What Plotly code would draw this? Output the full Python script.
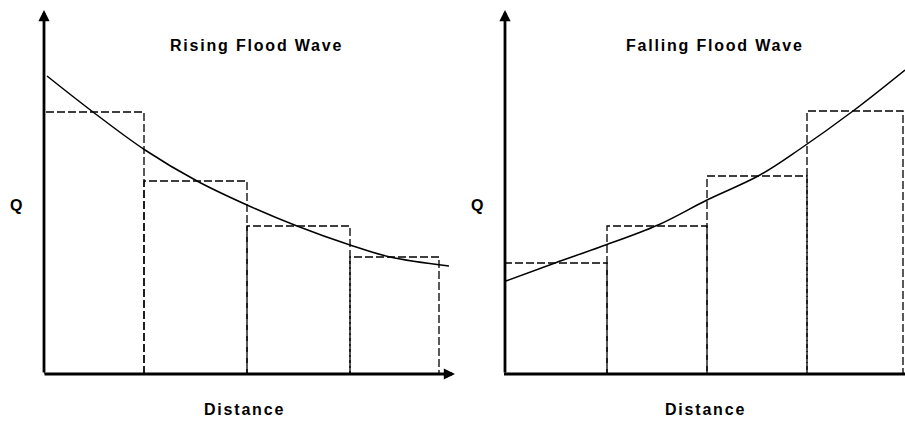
import plotly.graph_objects as go

# the page's body margin is removed in post_script so the figure fills the window
OFF = 0
W, H = 905, 421

# ---- data (x = distance units, y = Q units) ----
rise_edges = [0.0, 1.0, 2.03, 3.06, 3.95]
rise_heights = [2.62, 1.93, 1.48, 1.17]
rise_curve_x = [0.03, 0.49, 1.01, 1.53, 2.03, 2.53, 3.06, 3.46, 4.05]
rise_curve_y = [2.98, 2.62, 2.24, 1.93, 1.69, 1.48, 1.29, 1.17, 1.08]

fall_edges = [0.0, 1.02, 2.02, 3.02, 3.98]
fall_heights = [1.11, 1.48, 1.98, 2.63]
fall_curve_x = [0.01, 0.5, 0.95, 1.53, 2.02, 2.55, 2.95, 3.48, 4.0]
fall_curve_y = [0.93, 1.11, 1.27, 1.49, 1.74, 1.99, 2.25, 2.63, 3.04]

titles = ["Rising Flood Wave", "Falling Flood Wave"]
ylab = "Q"
xlab = "Distance"

X_MAX_L, X_MAX_R, Y_MAX = 4.11, 4.0, 3.64


def px(p):
    return (p - OFF) / W


def py(p):
    return 1 - (p - OFF) / H


def steps(edges, heights):
    xs, ys = [], []
    for i, h in enumerate(heights):
        xs += [edges[i], edges[i], edges[i + 1], edges[i + 1], None]
        ys += [0, h, h, 0, None]
    return xs, ys


fig = go.Figure()
dash_style = dict(color="black", width=1.3, dash="8px,3px")
for (edges, heights, cx, cy, xa, ya) in [
    (rise_edges, rise_heights, rise_curve_x, rise_curve_y, "x", "y"),
    (fall_edges, fall_heights, fall_curve_x, fall_curve_y, "x2", "y2"),
]:
    sx, sy = steps(edges, heights)
    fig.add_trace(go.Scatter(x=sx, y=sy, mode="lines", line=dash_style,
                             xaxis=xa, yaxis=ya, hoverinfo="skip"))
    fig.add_trace(go.Scatter(x=cx, y=cy, mode="lines",
                             line=dict(color="black", width=1.5, shape="spline"),
                             xaxis=xa, yaxis=ya, hoverinfo="skip"))

ax_common = dict(visible=False, showgrid=False, zeroline=False, fixedrange=True)
fig.update_layout(
    width=W, height=H,
    margin=dict(l=0, r=0, t=0, b=0),
    paper_bgcolor="white", plot_bgcolor="white",
    showlegend=False,
    xaxis=dict(domain=[px(44), px(455)], range=[0, X_MAX_L], **ax_common),
    yaxis=dict(domain=[py(374), py(10)], range=[0, Y_MAX], **ax_common),
    xaxis2=dict(domain=[px(505), 1.0], range=[0, X_MAX_R], anchor="y2", **ax_common),
    yaxis2=dict(domain=[py(374), py(10)], range=[0, Y_MAX], anchor="x2", **ax_common),
)

arrow = dict(showarrow=True, arrowhead=2, arrowsize=0.8, arrowwidth=2.8,
             arrowcolor="black", text="")
ann = []
# axis arrows
for xr, yr in [("x", "y"), ("x2", "y2")]:
    ann.append(dict(x=0, y=Y_MAX, ax=0, ay=0, xref=xr, yref=yr, axref=xr, ayref=yr, **arrow))
ann.append(dict(x=X_MAX_L, y=0, ax=-0.01, ay=0, xref="x", yref="y", axref="x", ayref="y", **arrow))

# right panel x-axis runs off the page edge (no visible arrowhead)
fig.add_shape(type="line", xref="paper", yref="paper", x0=px(504), x1=1.0,
              y0=py(374), y1=py(374), line=dict(color="black", width=2.8))

font = dict(family="Liberation Sans, Arial, sans-serif", size=16, color="black")


def sp(t):
    return '<span style="letter-spacing:1.8px"><b>' + t + '</b></span>'


for tx, tcx, qx, dx in [(titles[0], 256, 16, 245), (titles[1], 715, 477, 705)]:
    ann.append(dict(x=px(tcx), y=py(45), xref="paper", yref="paper", text=sp(tx),
                    showarrow=False, font=font, xanchor="center", yanchor="middle"))
    ann.append(dict(x=px(qx), y=py(205), xref="paper", yref="paper", text="<b>" + ylab + "</b>",
                    showarrow=False, font=font, xanchor="center", yanchor="middle"))
    ann.append(dict(x=px(dx), y=py(409), xref="paper", yref="paper", text=sp(xlab),
                    showarrow=False, font=font, xanchor="center", yanchor="middle"))

fig.update_layout(annotations=ann)
fig.write_html(
    "out.html",
    config={"displayModeBar": False, "staticPlot": True},
    post_script="document.body.style.margin='0px';document.body.style.overflow='hidden';",
)
